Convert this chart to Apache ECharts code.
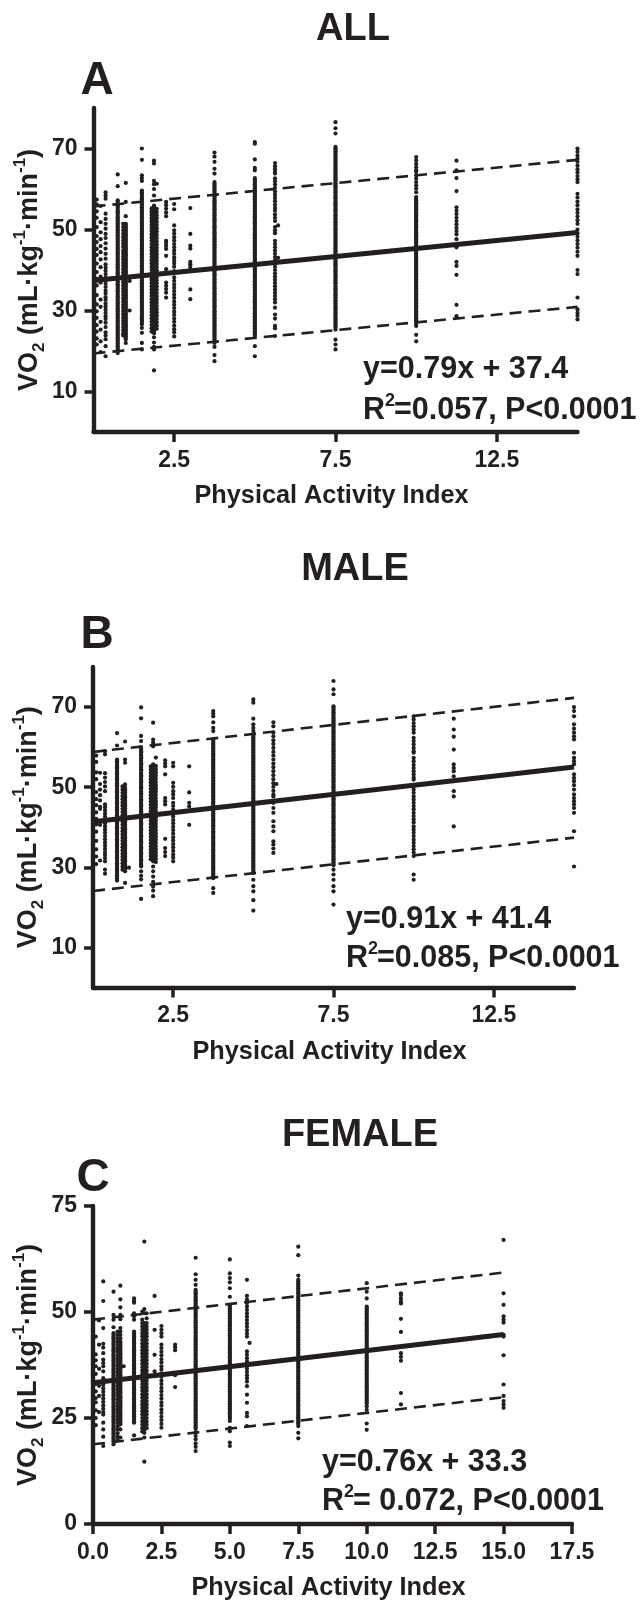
<!DOCTYPE html>
<html><head><meta charset="utf-8">
<style>html,body{margin:0;padding:0;background:#fff}#c{width:640px;height:1602px}</style>
<script src="https://cdn.jsdelivr.net/npm/echarts@6/dist/echarts.min.js"></script>
</head><body><div id="c"></div>
<script>
const titles = ['ALL', 'MALE', 'FEMALE'];
const letters = ['A', 'B', 'C'];
const xLabel = 'Physical Activity Index';
const eq1 = ['y=0.79x + 37.4', 'y=0.91x + 41.4', 'y=0.76x + 33.3'];
const r2Text = ['=0.057, P<0.0001', '=0.085, P<0.0001', '= 0.072, P<0.0001'];

const abXTicks = [2.5, 7.5, 12.5];
const abYTicks = [10, 30, 50, 70];
const cXTicks = [0, 2.5, 5, 7.5, 10, 12.5, 15, 17.5];
const cYTicks = [0, 25, 50, 75];

const allFit = [[0, 37.4], [15, 49.25]];
const allUpper = [[0, 55.7], [15, 67.2]];
const allLower = [[0, 19.4], [15, 30.9]];
const maleFit = [[0, 41.4], [15, 55.05]];
const maleUpper = [[0, 58.8], [15, 72.3]];
const maleLower = [[0, 24.1], [15, 37.4]];
const femaleFit = [[0, 33.3], [15, 44.7]];
const femaleUpper = [[0, 48.2], [15, 59.3]];
const femaleLower = [[0, 18.8], [15, 29.9]];

const allLevels = [0.1, 0.22, 0.375, 0.75, 0.92, 1, 1.12, 1.5, 1.8, 1.875, 1.96, 2.25, 2.5, 3, 3.75, 5, 5.625, 5.72, 7.5, 10, 11.25, 15];
const allVO2 = [
 [57.4,56.2,54.5,52.9,50.6,48.4,46.9,45.2,43.7,41.6,39.5,37.8,36.2,33.8,31.5,29.8,28.2,26.4,24.8,23.1,21.6],
 [55.8,51.8,49.3,47.6,45.9,44.4,42.6,40.7,38.4,36.9,32.7,30.9,27.2,25.3,22.4,19.7],
 [59.2,58.4,57.6,53.9,52.6,51.4,50.2,48.9,47.9,46.6,45.3,44,42.8,41.4,40.6,39.8,39,38.1,37.4,36.6,35.8,34.9,34.2,33.3,32.6,31.7,31,30.2,29.4,28.6,27.9,27,25.9,24.6,23.8,22.9,21.2,18.7],
 [63.6,60.7,57.2,56.4,55.7,54.9,54.2,53.4,52.7,51.9,51.2,50.4,49.7,48.9,48.2,47.4,46.7,45.9,45.2,44.4,43.7,42.9,42.2,41.4,40.7,39.9,39.2,38.4,37.7,36.9,36.2,35.4,34.7,33.9,33.2,32.4,31.7,30.9,30.2,29.4,28.7,27.9,27.2,26.4,25.7,24.9,24.2,23.4,22.7,21.9,21.2,20.4,19.5],
 [51.4,50.6,49.8,48.9,48.1,47.3,46.5,45.7,44.8,44.1,43.3,42.6,41.8,41,40.2,39.4,38.6,37.8,37,36.2,35.4,34.6,33.8,33,32.2,31.4,30.7,29.9,29.1,28.3,27.5,26.7,25.9,25.1,24.3,23.8],
 [61.5,56.8,53.3,51.4,50.6,49.9,49.1,48.4,47.6,46.9,46.1,45.4,44.6,43.9,43.1,42.4,41.6,40.9,40.1,39.4,38.6,37.9,37.1,36.4,35.6,34.9,34.1,33.4,32.6,31.9,31.1,30.4,29.6,28.9,28.1,27.4,26.6,25.9,25.1,24.4,23.6,22.9,22],
 [37.3,30],
 [70,67.2,63.4,62.7,62,59.6,58.9,58.1,57.4,56.6,55.9,55.1,54.4,53.6,52.9,52.1,51.4,50.6,49.9,49.1,48.4,47.6,46.9,46.1,45.4,44.6,43.9,43.1,42.4,41.6,40.9,40.1,39.4,38.6,37.9,37.1,36.4,35.6,34.9,34.1,33.4,32.6,31.9,31.1,30.4,29.6,28.9,28.1,27.4,26.6,25.7,24.5,22,20.4],
 [55.2,54.4,53.6,52.8,52,51.2,50.4,49.6,48.8,48,47.2,46.4,45.6,44.8,44,43.2,42.4,41.6,40.8,40,39.2,38.4,37.6,36.8,36,35.2,34.4,33.6,32.8,32,31.2,30.4,29.6,28.8,28,27.2,26.4,25.6,24.8],
 [67,66.3,62,61.2,60,58.4,55.9,55.1,54.4,53.6,52.9,52.1,51.4,50.6,49.9,49.1,48.4,47.6,46.9,46.1,45.4,44.6,43.9,43.1,42.4,41.6,40.9,40.1,39.4,38.6,37.9,37.1,36.4,35.6,34.9,34.1,33.4,32.6,31.9,31.1,30.4,29.6,28.9,28.1,27.4,26.6,25.9,25.1,24.4,23.4,22.1,21,20.4,15.2],
 [61.3,55.1,54.3,53.5,52.7,51.9,51.1,50.3,49.5,48.7,47.9,47.1,46.3,45.5,44.7,43.9,43.1,42.3,41.5,40.7,39.9,39.1,38.3,37.5,36.7,35.9,35.1,34.3,33.5,32.7,31.9,31.1,30.3,29.5,28.7,27.9,27.1,26.3,25.5],
 [56.8,56,55.1,54.2,53.3,47.2,46.7,46,45.2,43.5,40.2,36.9,36.1,35.3,34.4,33.2],
 [56.3,55,51,49.8,49,48.1,47.3,46.4,45.6,44.8,44,43.1,42.3,41.6,40.8,39.7,38.2,37.3,36.4,35.6,34.8,33.9,33.1,32.2,31.4,30.6,29.7,28.9,28,27.2,26.3,25.4,24.6,23.6],
 [55.3,48.9,46,45.3,42,41.4,40.8,40.2,35.2,32.8],
 [69,68,66.7,65,63.8,61.7,61,60.2,59.5,58.7,58,57.2,56.5,55.7,55,54.2,53.5,52.7,52,51.2,50.5,49.7,49,48.2,47.5,46.7,46,45.2,44.5,43.7,43,42.2,41.5,40.7,40,39.2,38.5,37.7,37,36.2,35.5,34.7,34,33.2,32.5,31.7,31,30.2,29.5,28.7,28,27.2,26.5,25.7,25,24.2,23.5,22.7,22,21,19,17.5],
 [71.6,71.2,67.3,65.2,64.6,62.7,62,61.2,60.5,59.7,59,58.2,57.5,56.7,56,55.2,54.5,53.7,53,52.2,51.5,50.7,50,49.2,48.5,47.7,47,46.2,45.5,44.7,44,43.2,42.5,41.7,41,40.2,39.5,38.7,38,37.2,36.5,35.7,35,34.2,33.5,32.7,32,31.2,30.5,29.7,29,28.2,27.5,26.7,26,25.2,24.5,23.7,21.2,18.7],
 [66.4,65.6,64.9,64.2,63.8,62.6,61.9,61.1,60.3,59.4,58.6,57.8,57,56.1,55.3,54.6,53.7,52.9,52.1,50.6,49.8,49.1,47.2,46.4,45.6,44.8,44,43.2,42.4,41.6,40.8,40,39.2,38.4,37.6,36.8,36,35.2,34.4,33.6,32.8,32,30.7,29,28,26.2,25.6,23.7],
 [51,43],
 [76.5,75,73.7,70.4,69.7,68.9,68.2,67.4,66.7,65.9,65.2,64.4,63.7,62.9,62.2,61.4,60.7,59.9,59.2,58.4,57.7,56.9,56.2,55.4,54.7,53.9,53.2,52.4,51.7,50.9,50.2,49.4,48.7,47.9,47.2,46.4,45.7,44.9,44.2,43.4,42.7,41.9,41.2,40.4,39.7,38.9,38.2,37.4,36.7,35.9,35.2,34.4,33.7,32.9,32.2,31.4,30.7,29.9,29.2,28.4,27.7,26.9,26.2,25.3,22.8,21.6,20.4],
 [67.9,67.1,66.2,65.4,64.6,64.2,63.4,62.6,61.7,60.9,60.1,59.2,58,57.2,56.5,55.7,55,54.2,53.5,52.7,52,51.2,50.5,49.7,49,48.2,47.5,46.7,46,45.2,44.5,43.7,43,42.2,41.5,40.7,40,39.2,38.5,37.7,37,36.2,35.5,34.7,34,33.2,32.5,31.7,31,30.2,29.5,28.7,28,27.2,26.2,24,22.4],
 [67,64.6,62.7,59.5,55.5,54.6,53.8,52.9,52.1,51.3,50.4,49.6,48.8,47.6,45.6,42,41,38.8,31.4,28.6],
 [70,69.2,68.3,67.5,66.7,65.8,64.9,64.1,63.2,62.4,61.7,58.8,57.9,56.9,56,55,54.1,53.2,52.3,51.4,50,49.1,48.2,47.3,46.4,45.5,44.5,43.5,40,39,33.2,30.3,29.4,28.7,27.8]
];
const allSolidLevels = [0.75, 1, 1.5, 1.875, 3.75, 5, 7.5, 10];
const allSolidVO2 = [
 [56.8,56,55.3,54.5,53.8,53,52.3,51.5,50.8,50,49.3,48.5,47.8,47,46.3,45.5,44.8,44,43.3,42.5,41.8,41,40.3,39.5,38.8,38,37.3,36.5,35.8,35,34.3,33.5,32.8,32,31.3,30.5,29.8,29,28.3,27.5,26.8,26,25.3,24.5,23.8,23,22.3,21.5,20.8,20],
 [51,50.2,49.5,48.7,48,47.2,46.5,45.7,45,44.2,43.5,42.7,42,41.2,40.5,39.7,39,38.2,37.5,36.7,36,35.2,34.5,33.7,33,32.2,31.5,30.7,30,29.2,28.5,27.7,27,26.2,25.5,24.7,24,23.2],
 [59.2,58.5,57.7,57,56.2,55.5,54.7,54,53.2,52.5,51.7,51,50.2,49.5,48.7,48,47.2,46.5,45.7,45,44.2,43.5,42.7,42,41.2,40.5,39.7,39,38.2,37.5,36.7,36,35.2,34.5,33.7,33,32.2,31.5,30.7,30,29.2,28.5,27.7,27],
 [55.5,54.7,54,53.2,52.5,51.7,51,50.2,49.5,48.7,48,47.2,46.5,45.7,45,44.2,43.5,42.7,42,41.2,40.5,39.7,39,38.2,37.5,36.7,36,35.2,34.5,33.7,33,32.2,31.5,30.7,30,29.2,28.5,27.7,27,26.2,25.5,24.7],
 [61.3,60.6,59.8,59.1,58.3,57.6,56.8,56.1,55.3,54.6,53.8,53.1,52.3,51.6,50.8,50.1,49.3,48.6,47.8,47.1,46.3,45.6,44.8,44.1,43.3,42.6,41.8,41.1,40.3,39.6,38.8,38.1,37.3,36.6,35.8,35.1,34.3,33.6,32.8,32.1,31.3,30.6,29.8,29.1,28.3,27.6,26.8,26.1,25.3,24.6,23.8,23.1,22.3],
 [62.3,61.6,60.8,60.1,59.3,58.6,57.8,57.1,56.3,55.6,54.8,54.1,53.3,52.6,51.8,51.1,50.3,49.6,48.8,48.1,47.3,46.6,45.8,45.1,44.3,43.6,42.8,42.1,41.3,40.6,39.8,39.1,38.3,37.6,36.8,36.1,35.3,34.6,33.8,33.1,32.3,31.6,30.8,30.1,29.3,28.6,27.8,27.1,26.3,25.6,24.8,24.1],
 [70,69.3,68.5,67.8,67,66.3,65.5,64.8,64,63.3,62.5,61.8,61,60.3,59.5,58.8,58,57.3,56.5,55.8,55,54.3,53.5,52.8,52,51.3,50.5,49.8,49,48.3,47.5,46.8,46,45.3,44.5,43.8,43,42.3,41.5,40.8,40,39.3,38.5,37.8,37,36.3,35.5,34.8,34,33.3,32.5,31.8,31,30.3,29.5,28.8,28,27.3,26.5,25.8],
 [57.6,56.8,56.1,55.3,54.6,53.8,53.1,52.3,51.6,50.8,50.1,49.3,48.6,47.8,47.1,46.3,45.6,44.8,44.1,43.3,42.6,41.8,41.1,40.3,39.6,38.8,38.1,37.3,36.6,35.8,35.1,34.3,33.6,32.8,32.1,31.3,30.6,29.8,29.1,28.3,27.6,26.7]
];

const maleLevels = [0.1, 0.22, 0.375, 0.75, 0.92, 1, 1.12, 1.5, 1.8, 1.875, 1.96, 2.25, 2.5, 3, 3.75, 5, 5.625, 5.72, 7.5, 10, 11.25, 15];
const maleVO2 = [
 [57.9,56.3,53.7,52,48.8,47,45.5,43.7,42.1,40.7,38.9,36.6,34.5,32.7,30.8],
 [53.6,50.8,49.4,48,46.7,45.1,44.6,40.6,31.7],
 [59,58.2,53.5,52.4,51.3,50.2,49,45.7,45,44.2,43.4,42.6,41.8,41,40.2,39.4,38.6,37.8,37,36.2,35.4,34.6,33.8,33.1,32.3,31.5,29.4,28.4],
 [63.5,60.4,56.9,56.1,55.4,54.6,53.9,53.1,52.4,51.6,50.9,50.1,49.4,48.6,47.9,47.1,46.4,45.6,44.9,44.1,43.4,42.6,41.9,41.1,40.4,39.6,38.9,38.1,37.4,36.6,35.9,35.1,34.4,33.6,32.9,32.1,31.4,30.6,29.9,29.1,28.4,27.6,26.7],
 [50.2,49.4,48.6,47.8,47,46.2,45.4,44.6,43.8,43,42.2,41.4,40.6,39.8,39,38.2,37.4,36.6,35.8,35,34.2,33.4,32.6,31.8,31,30.2,29.4],
 [61.4,56.9,56.1,50.7,49.9,49.1,48.3,47.5,46.7,45.9,45.1,44.3,43.5,42.7,41.9,41.1,40.3,39.5,38.7,37.9,37.1,36.3,35.5,34.7,33.9,33.1,32.3,31.5,30.7,29.9,29,26.1],
 [29.9],
 [69.9,67.2,62.8,61.5,59.8,59,58.3,57.5,56.8,56,55.3,54.5,53.8,53,52.3,51.5,50.8,50,49.3,48.5,47.8,47,46.3,45.5,44.8,44,43.3,42.5,41.8,41,40.3,39.5,38.8,38,37.3,36.5,35.8,35,34.3,33.5,32.8,32,31.3,30.5,29,27.9,27,22.1],
 [55.2,54.4,53.6,52.8,52,51.2,50.4,49.6,48.8,48,47.2,46.4,45.6,44.8,44,43.2,42.4,41.6,40.8,40,39.2,38.4,37.6,36.8,36,35.2,34.4,33.6,32.8,32],
 [66.1,61.9,61.1,60.2,55.7,54.9,54.1,53.4,52.6,51.8,51,50.3,49.5,48.7,47.9,47.2,46.4,45.6,44.8,44.1,43.3,42.5,41.7,41,40.2,39.4,38.6,37.9,37.1,36.3,35.5,34.8,34,33.2,32.4,31.5,30.2,29,27.7,26.4,25.2,24.2,22.8],
 [57.4,55.3,54.5,53.7,52.9,52.1,51.3,50.5,49.7,48.9,48.1,47.3,46.5,45.7,44.9,44.1,43.3,42.5,41.7,40.9,40.1,39.3,38.5,37.7,36.9,36.1,35.3,34.5,33.7,32.9,32.1,31.3],
 [56.7,55.9,55.2,53.2,47.3,46.5,45.7,37.1,34.8,33.8,32.8],
 [56.1,55.2,51.1,50.1,49,48.2,47.3,46.1,45.3,44.4,43.6,42.7,41.8,41,40.1,39.3,38.4,37.5,36.7,35.8,35,34.1,33.2,32.4,31.5],
 [55.2,48.7,46.1,45.2,40.6],
 [69,68.4,67.7,66.2,64.8,64,61.9,61.1,60.4,59.6,58.9,58.1,57.4,56.6,55.9,55.1,54.4,53.6,52.9,52.1,51.4,50.6,49.9,49.1,48.4,47.6,46.9,46.1,45.4,44.6,43.9,43.1,42.4,41.6,40.9,40.1,39.4,38.6,37.9,37.1,36.4,35.6,34.9,34.1,33.4,32.6,31.9,31.1,30.4,29.6,28.9,28.1,27.3,24.8,23.6],
 [71.9,71.1,67.1,65.7,64.8,64,63.2,62.4,61.7,60.9,60.2,59.4,58.7,57.9,57.2,56.4,55.7,54.9,54.2,53.4,52.7,51.9,51.2,50.4,49.7,48.9,48.2,47.4,46.7,45.9,45.2,44.4,43.7,42.9,42.2,41.4,40.7,39.9,39.2,38.4,37.7,36.9,36.2,35.4,34.7,33.9,33.2,32.4,31.7,30.9,30.2,29.4,28.6,26.9,25.3,24,21.8,19.2],
 [66.2,65.2,63.6,62.7,61.7,60.8,59.8,58.8,57.9,56.9,55.9,55,54,53,52,51,50.1,49.1,48.2,47.7,46.1,44.8,43.6,41.5,40.2,39,36.5,35.7,34.7,33.6],
 [50.8],
 [76.5,74.4,73.2,70.2,69.5,68.7,68,67.2,66.5,65.7,65,64.2,63.5,62.7,62,61.2,60.5,59.7,59,58.2,57.5,56.7,56,55.2,54.5,53.7,53,52.2,51.5,50.7,50,49.2,48.5,47.7,47,46.2,45.5,44.7,44,43.2,42.5,41.7,41,40.2,39.5,38.7,38,37.2,36.5,35.7,35,34.2,33.5,32.7,32,31.2,30.5,29.4,28.2,26.9,25.3,24,20.7],
 [67.7,66.9,66,65.2,64.4,63.6,62.3,61.5,60.7,59.8,59,58.6,57.3,56.5,55.6,54.8,54,53.2,52.4,51.9,50.2,49.4,48.6,47.7,46.9,46.1,45.3,44.5,43.6,42.8,42,41.2,40.2,39.4,38.6,37.8,36.9,36.1,35.3,34.5,33.7,32.8,28.2,26.9],
 [67.1,64.4,62.6,59.4,55.7,54.8,54,52.7,51.5,49,47.7,40.2],
 [70,69,67.7,65.7,64.6,63.6,62.7,61.9,58.6,57.3,56.5,55.7,53.2,52.3,51.5,50.5,49.4,48.2,47.3,46.5,45.7,44.8,43.6,39,30.2]
];
const maleSolidLevels = [0.75, 1, 1.5, 1.875, 3.75, 5, 7.5];
const maleSolidVO2 = [
 [56.5,55.8,55,54.3,53.5,52.8,52,51.3,50.5,49.8,49,48.3,47.5,46.8,46,45.3,44.5,43.8,43,42.3,41.5,40.8,40,39.3,38.5,37.8,37,36.3,35.5,34.8,34,33.3,32.5,31.8,31,30.3,29.5,28.8,28,27.3],
 [49.5,48.7,47.9,47.1,46.3,45.5,44.7,43.9,43.1,42.3,41.5,40.7,39.9,39.1,38.3,37.5,36.7,35.9,35.1,34.3,33.5,32.7,31.9,31.1,30.3,29.5],
 [59.4,58.7,57.9,57.2,56.4,55.7,54.9,54.2,53.4,52.7,51.9,51.2,50.4,49.7,48.9,48.2,47.4,46.7,45.9,45.2,44.4,43.7,42.9,42.2,41.4,40.7,39.9,39.2,38.4,37.7,36.9,36.2,35.4,34.7,33.9,33.2,32.4,31.7,30.9,30.2],
 [55.3,54.5,53.7,53,52.2,51.4,50.7,49.9,49.1,48.3,47.6,46.8,46,45.2,44.5,43.7,42.9,42.1,41.4,40.6,39.8,39,38.3,37.5,36.7,35.9,35.2,34.4,33.6,32.8,32],
 [61.5,60.8,60,59.3,58.5,57.8,57,56.3,55.5,54.8,54,53.3,52.5,51.8,51,50.3,49.5,48.8,48,47.3,46.5,45.8,45,44.3,43.5,42.8,42,41.3,40.5,39.8,39,38.3,37.5,36.8,36,35.3,34.5,33.8,33,32.3,31.5,30.8,30,29.3,28.5,27.8],
 [62.8,62.1,61.3,60.6,59.8,59.1,58.3,57.6,56.8,56.1,55.3,54.6,53.8,53.1,52.3,51.6,50.8,50.1,49.3,48.6,47.8,47.1,46.3,45.6,44.8,44.1,43.3,42.6,41.8,41.1,40.3,39.6,38.8,38.1,37.3,36.6,35.8,35.1,34.3,33.6,32.8,32.1,31.3,30.6,29.8,29.1],
 [69.8,69.1,68.3,67.6,66.8,66.1,65.3,64.6,63.8,63.1,62.3,61.6,60.8,60.1,59.3,58.6,57.8,57.1,56.3,55.6,54.8,54.1,53.3,52.6,51.8,51.1,50.3,49.6,48.8,48.1,47.3,46.6,45.8,45.1,44.3,43.6,42.8,42.1,41.3,40.6,39.8,39.1,38.3,37.6,36.8,36.1,35.3,34.6,33.8,33.1,32.3,31.6,30.8]
];

const femaleLevels = [0.1, 0.22, 0.375, 0.75, 0.9, 1, 1.12, 1.5, 1.8, 1.875, 1.96, 2.25, 2.5, 3, 3.75, 5, 5.625, 5.72, 7.5, 10, 11.25, 15];
const femaleVO2 = [
 [44.2,40,38.6,37.2,35.4,33,31.3,29.7,28.7,26.8,25,23.3],
 [48,42.3,36.6,32.6,30.2,26.4],
 [57.2,52.6,46.2,42.5,41.6,40.3,38.8,38,37.2,36,34.4,33.6,32.8,32,31.2,30.4,29.6,28.8,28,27.2,26.4,25.8,23.9,22.3,20.6,18.4],
 [54.8,49.3,48.2,46.4,45,44.2,43.4,42.6,41.8,41,40.2,39.4,38.6,37.8,37,36.2,35.4,34.6,33.8,33,32.2,31.4,30.6,29.8,29,28.2,27.4,26.6,25.8,25,24.2,23.4,22.6,21.8,21,20.2,19.4,18.8],
 [45.4,44.6,43.8,43,42.2,41.4,40.6,39.8,39,38.2,37.4,36.6,35.8,35,34.2,33.4,32.6,31.8,31,30.2,29.4,28.6,27.8,27,26.2,25.4,24.6,23.8,23,22.2,21.4,20.6,19.8],
 [56.2,53,51.1,49.3,48.3,46.2,45.4,44.6,43.8,43,42.7,41.9,41.1,40.3,39.5,38.7,37.9,37.1,36.3,35.5,34.7,33.9,33.1,32.3,31.5,30.7,29.9,29.1,28.3,27.5,26.7,25.9,25.1,24.3,23.5,22.3,20.4],
 [37.2],
 [53.2,52.6,52.2,49.7,49,48.2,45.4,44.6,43.8,43,42.2,41.4,40.6,39.8,39,38.2,37.4,36.6,35.8,35,34.2,33.4,32.6,31.8,31,30.2,29.4,28.6,27.8,27,26.2,25.4,24.6,23.9,20.9],
 [50.1,48.2,47.4,46.6,45.8,45,44.2,43.4,42.6,41.8,41,40.2,39.4,38.6,37.8,37,36.2,35.4,34.6,33.8,33,32.2,31.4,30.6,29.8,29,28.2,27.4,26.6,25.8,25,24.2,23.4,22.6,21.8],
 [66.6,50.7,49.7,47.4,46.6,45.8,45,44.2,43.4,42.6,41.8,41,40.2,39.4,38.6,37.8,37,36.2,35.4,34.6,33.8,33,32.2,31.4,30.6,29.8,29,28.2,27.4,26.6,25.8,25,24.2,23.4,22.6,21.5,20.4,14.7],
 [49.7,48.5,47.4,46.6,45.8,45,44.2,43.4,42.6,41.8,41,40.2,39.4,38.6,37.8,37,36.2,35.4,34.6,33.8,33,32.2,31.4,30.6,29.8,29,28.2,27.4,26.6,25.8,25,24.2,23.4,22.6],
 [53.8,45.8,39.9,36],
 [46.7,45.8,45,44.2,42.3,41.5,40.6,39.8,38.9,38.1,37.2,36.4,35.5,34.7,33.8,33,32.1,31.3,30.4,29.6,28.7,27.9,27,26.2,25.3,24.5,23.6,22.7],
 [42.3,41.7,41,35.1,32.3],
 [62.8,58.9,57.6,56.4,55.2,54.4,53.6,52.8,52,51.2,50.4,49.6,48.8,48,47.2,46.4,45.6,44.8,44,43.2,42.4,41.6,40.8,40,39.2,38.4,37.6,36.8,36,35.2,34.4,33.6,32.8,32,31.2,30.4,29.6,28.8,28,27.2,26.4,25.6,24.8,24,23.2,22.4,21.6,20.8,20,19,18.2,17.2],
 [62.4,59.1,58,57,55.6,53.6,51.7,50.9,50.1,49.3,48.5,47.7,46.9,46.1,45.3,44.5,43.7,42.9,42.1,41.3,40.5,39.7,38.9,38.1,37.3,36.5,35.7,34.9,34.1,33.3,32.5,31.7,30.9,30.1,29.3,28.5,27.7,26.9,26.1,25.3,24.3,22.7,21.9,19.2,18.4],
 [57.6,53.8,52.9,52.1,51.3,50.5,49.7,48.9,48.1,47.3,46.5,45.7,44.9,44.2,40.7,39.9,39.1,38.3,37.5,36.7,35.9,35.1,34.4,33.6,32.5,30.5,28.6,26.2,25.4,23.1],
 [42.7],
 [65.4,63.4,58.6,57.6,56.8,56,55.2,54.4,53.6,52.8,52,51.2,50.4,49.6,48.8,48,47.2,46.4,45.6,44.8,44,43.2,42.4,41.6,40.8,40,39.2,38.4,37.6,36.8,36,35.2,34.4,33.6,32.8,32,31.2,30.4,29.6,28.8,28,27.2,26.4,25.6,24.8,24,23.1,21.5,20.2],
 [56.8,54.8,53.2,51.3,50.5,49.7,48.9,48.1,47.3,46.5,45.7,44.9,44.1,43.3,42.5,41.7,40.9,40.1,39.3,38.5,37.7,36.9,36.1,35.3,34.5,33.7,32.9,32.1,31.3,30.5,29.7,28.9,27.8,26.9,23.7,22.2],
 [54.4,54,53.2,52.5,52,48.4,45.3,40.3,39.4,38.5,30.9,28.2],
 [67,54.4,51.7,49,48.2,47.5,44.6,44.2,39.8,32.9,30.2,29,28.2,27.4]
];
const femaleSolidLevels = [0.75, 1, 1.5, 1.875, 3.75, 5, 7.5, 10];
const femaleSolidVO2 = [
 [44.6,43.8,43,42.2,41.4,40.6,39.8,39,38.2,37.4,36.6,35.8,35,34.2,33.4,32.6,31.8,31,30.2,29.4,28.6,27.8,27,26.2,25.4,24.6,23.8,23,22.2,21.4,20.6,19.8],
 [42.3,41.5,40.7,39.9,39.1,38.3,37.5,36.7,35.9,35.1,34.3,33.5,32.7,31.9,31.1,30.3,29.5,28.7,27.9,27.1,26.3,25.5,24.7,23.9],
 [45,44.2,43.4,42.6,41.8,41,40.2,39.4,38.6,37.8,37,36.2,35.4,34.6,33.8,33,32.2,31.4,30.6,29.8,29,28.2,27.4,26.6,25.8,25,24.2],
 [47,46.2,45.4,44.6,43.8,43,42.2,41.4,40.6,39.8,39,38.2,37.4,36.6,35.8,35,34.2,33.4,32.6,31.8,31,30.2,29.4,28.6,27.8,27,26.2,25.4,24.6,23.8,23,22.2],
 [54.8,54,53.2,52.4,51.6,50.8,50,49.2,48.4,47.6,46.8,46,45.2,44.4,43.6,42.8,42,41.2,40.4,39.6,38.8,38,37.2,36.4,35.6,34.8,34,33.2,32.4,31.6,30.8,30,29.2,28.4,27.6,26.8,26,25.2,24.4,23.6,22.8],
 [51.3,50.5,49.7,48.9,48.1,47.3,46.5,45.7,44.9,44.1,43.3,42.5,41.7,40.9,40.1,39.3,38.5,37.7,36.9,36.1,35.3,34.5,33.7,32.9,32.1,31.3,30.5,29.7,28.9,28.1,27.3,26.5,25.7,24.9],
 [57.2,56.4,55.6,54.8,54,53.2,52.4,51.6,50.8,50,49.2,48.4,47.6,46.8,46,45.2,44.4,43.6,42.8,42,41.2,40.4,39.6,38.8,38,37.2,36.4,35.6,34.8,34,33.2,32.4,31.6,30.8,30,29.2,28.4,27.6,26.8,26,25.2,24.4,23.6],
 [50.9,50.1,49.3,48.5,47.7,46.9,46.1,45.3,44.5,43.7,42.9,42.1,41.3,40.5,39.7,38.9,38.1,37.3,36.5,35.7,34.9,34.1,33.3,32.5,31.7,30.9,30.1,29.3,28.5]
];

const ink = '#231f20';
const font = '"Liberation Sans", Arial, sans-serif';
const tickFont = '"Liberation Sans Narrow", "Liberation Sans", Arial, sans-serif';

function toPoints(levels, cols) {
  return levels.flatMap((x, i) => cols[i].map(v => [x, v]));
}
function scatterSeries(levels, cols, solidLevels, solidCols, idx) {
  return {
    type: 'scatter', xAxisIndex: idx, yAxisIndex: idx, symbolSize: 4.2, z: 2, silent: true, large: false,
    itemStyle: { color: ink, opacity: 1 },
    data: toPoints(levels, cols).concat(toPoints(solidLevels, solidCols))
  };
}
function lineSeries(data, idx, width, dashed) {
  return {
    type: 'line', xAxisIndex: idx, yAxisIndex: idx, data, showSymbol: false, z: 3, silent: true,
    lineStyle: { color: ink, width, type: dashed ? [12, 7] : 'solid', cap: 'butt' }
  };
}
const yName = '{b|VO}{s|2}{b| (mL·kg}{t|-1}{b|·min}{t|-1}{b|)}';
const yRich = {
  b: { fontSize: 27, fontWeight: 'bold', color: ink, fontFamily: font, lineHeight: 36, verticalAlign: 'middle' },
  s: { fontSize: 17, fontWeight: 'bold', color: ink, fontFamily: font, lineHeight: 36, verticalAlign: 'bottom', padding: [10, 0, 0, 0] },
  t: { fontSize: 17, fontWeight: 'bold', color: ink, fontFamily: font, lineHeight: 36, verticalAlign: 'top', padding: [0, 0, 10, 0] }
};
function xAxis(idx, max, ticks, gap) {
  return {
    type: 'value', gridIndex: idx, min: 0, max, splitLine: { show: false },
    name: xLabel, nameLocation: 'middle', nameGap: gap,
    nameTextStyle: { fontFamily: font, fontWeight: 'bold', fontSize: 25.3, color: ink, padding: [0, 8, 0, 0] },
    axisLine: { lineStyle: { color: ink, width: 4.4 } },
    axisTick: { length: 10, lineStyle: { color: ink, width: 3.5 }, customValues: ticks },
    axisLabel: { customValues: ticks, margin: 17, color: ink, fontFamily: tickFont, fontWeight: 'bold', fontSize: 23, formatter: v => v.toFixed(1), hideOverlap: false, showMinLabel: true, showMaxLabel: true }
  };
}
function yAxis(idx, max, ticks) {
  return {
    type: 'value', gridIndex: idx, min: 0, max, splitLine: { show: false },
    name: yName, nameLocation: 'middle', nameRotate: 90, nameGap: 46, nameMoveOverlap: false,
    nameTextStyle: { rich: yRich },
    axisLine: { lineStyle: { color: ink, width: 4.4 } },
    axisTick: { length: 9, lineStyle: { color: ink, width: 3.5 }, customValues: ticks },
    axisLabel: { customValues: ticks, margin: 16, color: ink, fontFamily: tickFont, fontWeight: 'bold', fontSize: 23, showMinLabel: true, showMaxLabel: true }
  };
}
function txt(text, x, y, size, align) {
  return { type: 'text', x, y, silent: true, style: { text, fill: ink, font: `bold ${size}px ${font}`, textAlign: align || 'center', textVerticalAlign: 'middle' } };
}
function r2(x, y, rest) {
  return [
    txt('R', x, y, 30.5, 'left'),
    txt('2', x + 22, y - 10, 18, 'left'),
    txt(rest, x + 31, y, 30.5, 'left')
  ];
}
const chart = echarts.init(document.getElementById('c'), null, { renderer: 'canvas' });
chart.setOption({
  animation: false,
  backgroundColor: '#fff',
  grid: [
    { left: 93.5, top: 108, width: 484, height: 324 },
    { left: 93, top: 667, width: 481, height: 320.5 },
    { left: 93, top: 1206, width: 479, height: 319 }
  ],
  xAxis: [xAxis(0, 15, abXTicks, 52), xAxis(1, 15, abXTicks, 52), xAxis(2, 17.5, cXTicks, 52)],
  yAxis: [yAxis(0, 80, abYTicks), yAxis(1, 80, abYTicks), yAxis(2, 75, cYTicks)],
  series: [
    scatterSeries(allLevels, allVO2, allSolidLevels, allSolidVO2, 0),
    lineSeries(allFit, 0, 5), lineSeries(allUpper, 0, 2.6, true), lineSeries(allLower, 0, 2.6, true),
    scatterSeries(maleLevels, maleVO2, maleSolidLevels, maleSolidVO2, 1),
    lineSeries(maleFit, 1, 5), lineSeries(maleUpper, 1, 2.6, true), lineSeries(maleLower, 1, 2.6, true),
    scatterSeries(femaleLevels, femaleVO2, femaleSolidLevels, femaleSolidVO2, 2),
    lineSeries(femaleFit, 2, 5), lineSeries(femaleUpper, 2, 2.6, true), lineSeries(femaleLower, 2, 2.6, true)
  ],
  graphic: [
    txt(titles[0], 353, 30, 38), txt(titles[1], 355, 570, 38), txt(titles[2], 360, 1136, 38),
    txt(letters[0], 97, 81, 46), txt(letters[1], 97, 635, 46), txt(letters[2], 93, 1178, 46),
    txt(eq1[0], 363, 370, 30.5, 'left'), ...r2(363, 411, r2Text[0]),
    txt(eq1[1], 346, 920, 30.5, 'left'), ...r2(346, 959, r2Text[1]),
    txt(eq1[2], 322, 1463, 30.5, 'left'), ...r2(322, 1502, r2Text[2])
  ]
});
</script></body></html>
